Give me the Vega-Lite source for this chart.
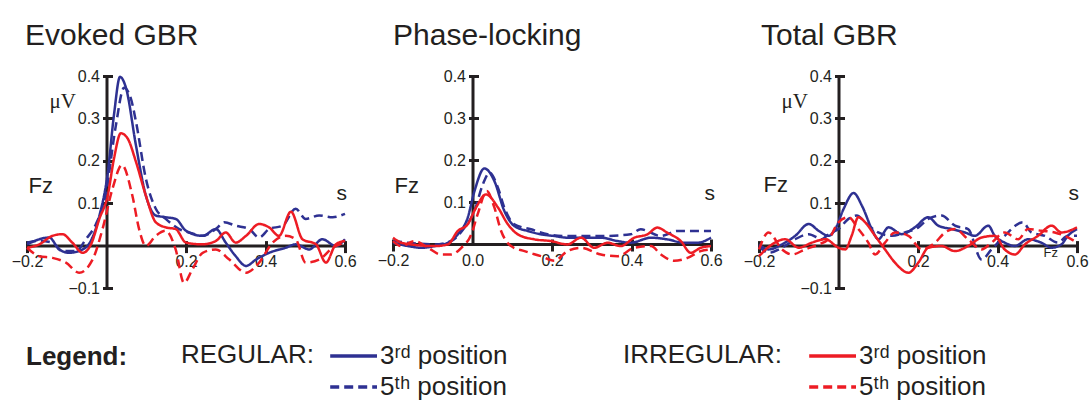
{
  "$schema": "https://vega.github.io/schema/vega-lite/v6.json",
  "padding": {"left": 11, "top": 21, "right": 0, "bottom": 0},
  "background": "white",
  "bounds": "flush",
  "spacing": 48,
  "title": {"text": "Legend:", "orient": "bottom", "anchor": "start", "frame": "group", "baseline": "alphabetic", "offset": -35, "dx": -1, "fontSize": 26, "fontWeight": "bold", "font": "Liberation Sans", "color": "#231f20"},
  "datasets": {
    "evoked": [
      {"series":"R3","t":-0.2,"v":0.003},{"series":"R3","t":-0.144,"v":0.019},{"series":"R3","t":-0.119,"v":-0.009},{"series":"R3","t":-0.094,"v":-0.017},{"series":"R3","t":-0.06,"v":-0.009},{"series":"R3","t":-0.039,"v":0.012},{"series":"R3","t":-0.018,"v":0.07},{"series":"R3","t":0.003,"v":0.17},{"series":"R3","t":0.019,"v":0.31},{"series":"R3","t":0.034,"v":0.398},{"series":"R3","t":0.049,"v":0.372},{"series":"R3","t":0.074,"v":0.237},{"series":"R3","t":0.099,"v":0.118},{"series":"R3","t":0.124,"v":0.071},{"series":"R3","t":0.149,"v":0.067},{"series":"R3","t":0.174,"v":0.063},{"series":"R3","t":0.2,"v":0.035},{"series":"R3","t":0.242,"v":0.023},{"series":"R3","t":0.275,"v":0.039},{"series":"R3","t":0.3,"v":0.007},{"series":"R3","t":0.325,"v":-0.025},{"series":"R3","t":0.351,"v":-0.048},{"series":"R3","t":0.376,"v":-0.033},{"series":"R3","t":0.409,"v":-0.017},{"series":"R3","t":0.451,"v":-0.005},{"series":"R3","t":0.476,"v":0.003},{"series":"R3","t":0.51,"v":-0.009},{"series":"R3","t":0.543,"v":0.015},{"series":"R3","t":0.577,"v":-0.001},{"series":"R3","t":0.6,"v":0.015},
      {"series":"R5","t":-0.2,"v":0.007},{"series":"R5","t":-0.169,"v":0.011},{"series":"R5","t":-0.136,"v":0.007},{"series":"R5","t":-0.111,"v":-0.013},{"series":"R5","t":-0.077,"v":-0.013},{"series":"R5","t":-0.052,"v":0.015},{"series":"R5","t":-0.027,"v":0.05},{"series":"R5","t":-0.002,"v":0.12},{"series":"R5","t":0.023,"v":0.28},{"series":"R5","t":0.044,"v":0.372},{"series":"R5","t":0.061,"v":0.348},{"series":"R5","t":0.074,"v":0.293},{"series":"R5","t":0.099,"v":0.158},{"series":"R5","t":0.124,"v":0.087},{"series":"R5","t":0.149,"v":0.063},{"series":"R5","t":0.183,"v":0.039},{"series":"R5","t":0.208,"v":0.031},{"series":"R5","t":0.242,"v":0.023},{"series":"R5","t":0.275,"v":0.039},{"series":"R5","t":0.296,"v":0.055},{"series":"R5","t":0.325,"v":0.047},{"series":"R5","t":0.359,"v":0.039},{"series":"R5","t":0.384,"v":0.019},{"series":"R5","t":0.409,"v":0.039},{"series":"R5","t":0.443,"v":0.047},{"series":"R5","t":0.476,"v":0.087},{"series":"R5","t":0.501,"v":0.063},{"series":"R5","t":0.535,"v":0.071},{"series":"R5","t":0.569,"v":0.067},{"series":"R5","t":0.6,"v":0.075},
      {"series":"I3","t":-0.2,"v":-0.005},{"series":"I3","t":-0.169,"v":0.003},{"series":"I3","t":-0.136,"v":0.023},{"series":"I3","t":-0.111,"v":0.027},{"series":"I3","t":-0.086,"v":0.007},{"series":"I3","t":-0.06,"v":-0.017},{"series":"I3","t":-0.039,"v":0.003},{"series":"I3","t":-0.018,"v":0.063},{"series":"I3","t":0.003,"v":0.118},{"series":"I3","t":0.019,"v":0.206},{"series":"I3","t":0.036,"v":0.265},{"series":"I3","t":0.053,"v":0.253},{"series":"I3","t":0.074,"v":0.198},{"series":"I3","t":0.099,"v":0.118},{"series":"I3","t":0.124,"v":0.055},{"series":"I3","t":0.149,"v":0.043},{"series":"I3","t":0.174,"v":0.039},{"series":"I3","t":0.2,"v":0.007},{"series":"I3","t":0.242,"v":0.003},{"series":"I3","t":0.275,"v":0.011},{"series":"I3","t":0.3,"v":0.031},{"series":"I3","t":0.325,"v":0.007},{"series":"I3","t":0.351,"v":0.023},{"series":"I3","t":0.384,"v":0.051},{"series":"I3","t":0.409,"v":0.043},{"series":"I3","t":0.434,"v":0.023},{"series":"I3","t":0.464,"v":0.08},{"series":"I3","t":0.493,"v":0.015},{"series":"I3","t":0.527,"v":0.003},{"series":"I3","t":0.552,"v":-0.04},{"series":"I3","t":0.577,"v":0.003},{"series":"I3","t":0.6,"v":0.011},
      {"series":"I5","t":-0.2,"v":-0.005},{"series":"I5","t":-0.169,"v":-0.025},{"series":"I5","t":-0.136,"v":-0.029},{"series":"I5","t":-0.102,"v":-0.04},{"series":"I5","t":-0.069,"v":-0.064},{"series":"I5","t":-0.035,"v":-0.033},{"series":"I5","t":-0.01,"v":0.039},{"series":"I5","t":0.015,"v":0.134},{"series":"I5","t":0.039,"v":0.19},{"series":"I5","t":0.065,"v":0.118},{"series":"I5","t":0.082,"v":0.039},{"series":"I5","t":0.099,"v":-0.001},{"series":"I5","t":0.124,"v":0.023},{"series":"I5","t":0.149,"v":0.035},{"series":"I5","t":0.174,"v":-0.009},{"series":"I5","t":0.195,"v":-0.088},{"series":"I5","t":0.216,"v":-0.056},{"series":"I5","t":0.242,"v":-0.017},{"series":"I5","t":0.275,"v":-0.009},{"series":"I5","t":0.309,"v":-0.033},{"series":"I5","t":0.351,"v":-0.064},{"series":"I5","t":0.384,"v":-0.04},{"series":"I5","t":0.418,"v":0.007},{"series":"I5","t":0.451,"v":0.023},{"series":"I5","t":0.476,"v":0.015},{"series":"I5","t":0.501,"v":-0.04},{"series":"I5","t":0.535,"v":-0.033},{"series":"I5","t":0.569,"v":-0.005},{"series":"I5","t":0.6,"v":0.007}
    ],
    "phase": [
      {"series":"R3","t":-0.2,"v":0.003},{"series":"R3","t":-0.162,"v":-0.005},{"series":"R3","t":-0.129,"v":-0.009},{"series":"R3","t":-0.095,"v":-0.005},{"series":"R3","t":-0.062,"v":0.003},{"series":"R3","t":-0.037,"v":0.023},{"series":"R3","t":-0.012,"v":0.063},{"series":"R3","t":0.005,"v":0.126},{"series":"R3","t":0.03,"v":0.18},{"series":"R3","t":0.055,"v":0.15},{"series":"R3","t":0.08,"v":0.079},{"series":"R3","t":0.105,"v":0.043},{"series":"R3","t":0.139,"v":0.031},{"series":"R3","t":0.172,"v":0.023},{"series":"R3","t":0.206,"v":0.019},{"series":"R3","t":0.239,"v":0.015},{"series":"R3","t":0.281,"v":0.015},{"series":"R3","t":0.323,"v":0.015},{"series":"R3","t":0.365,"v":0.007},{"series":"R3","t":0.398,"v":0.003},{"series":"R3","t":0.449,"v":0.015},{"series":"R3","t":0.49,"v":0.011},{"series":"R3","t":0.532,"v":0.003},{"series":"R3","t":0.566,"v":0.003},{"series":"R3","t":0.6,"v":0.015},
      {"series":"R5","t":-0.2,"v":0.007},{"series":"R5","t":-0.162,"v":0.003},{"series":"R5","t":-0.095,"v":-0.001},{"series":"R5","t":-0.054,"v":0.007},{"series":"R5","t":-0.02,"v":0.039},{"series":"R5","t":0.005,"v":0.079},{"series":"R5","t":0.026,"v":0.142},{"series":"R5","t":0.043,"v":0.17},{"series":"R5","t":0.064,"v":0.134},{"series":"R5","t":0.08,"v":0.087},{"series":"R5","t":0.105,"v":0.047},{"series":"R5","t":0.147,"v":0.035},{"series":"R5","t":0.189,"v":0.023},{"series":"R5","t":0.239,"v":0.019},{"series":"R5","t":0.323,"v":0.019},{"series":"R5","t":0.398,"v":0.023},{"series":"R5","t":0.423,"v":0.035},{"series":"R5","t":0.474,"v":0.019},{"series":"R5","t":0.515,"v":0.031},{"series":"R5","t":0.557,"v":0.031},{"series":"R5","t":0.6,"v":0.031},
      {"series":"I3","t":-0.2,"v":0.015},{"series":"I3","t":-0.179,"v":0.003},{"series":"I3","t":-0.154,"v":-0.001},{"series":"I3","t":-0.095,"v":-0.005},{"series":"I3","t":-0.062,"v":-0.001},{"series":"I3","t":-0.037,"v":0.031},{"series":"I3","t":-0.012,"v":0.047},{"series":"I3","t":0.009,"v":0.087},{"series":"I3","t":0.034,"v":0.118},{"series":"I3","t":0.064,"v":0.087},{"series":"I3","t":0.089,"v":0.047},{"series":"I3","t":0.114,"v":0.023},{"series":"I3","t":0.156,"v":0.011},{"series":"I3","t":0.197,"v":0.007},{"series":"I3","t":0.239,"v":-0.001},{"series":"I3","t":0.273,"v":0.015},{"series":"I3","t":0.306,"v":-0.009},{"series":"I3","t":0.34,"v":0.003},{"series":"I3","t":0.373,"v":-0.005},{"series":"I3","t":0.407,"v":0.015},{"series":"I3","t":0.44,"v":0.023},{"series":"I3","t":0.465,"v":0.039},{"series":"I3","t":0.49,"v":0.027},{"series":"I3","t":0.524,"v":0.007},{"series":"I3","t":0.549,"v":-0.021},{"series":"I3","t":0.574,"v":-0.009},{"series":"I3","t":0.6,"v":-0.005},
      {"series":"I5","t":-0.2,"v":0.007},{"series":"I5","t":-0.179,"v":-0.005},{"series":"I5","t":-0.146,"v":0.007},{"series":"I5","t":-0.112,"v":-0.009},{"series":"I5","t":-0.079,"v":-0.025},{"series":"I5","t":-0.054,"v":-0.025},{"series":"I5","t":-0.028,"v":-0.009},{"series":"I5","t":-0.003,"v":0.023},{"series":"I5","t":0.013,"v":0.071},{"series":"I5","t":0.036,"v":0.126},{"series":"I5","t":0.055,"v":0.087},{"series":"I5","t":0.072,"v":0.031},{"series":"I5","t":0.097,"v":-0.005},{"series":"I5","t":0.131,"v":-0.017},{"series":"I5","t":0.172,"v":-0.029},{"series":"I5","t":0.206,"v":-0.04},{"series":"I5","t":0.239,"v":-0.017},{"series":"I5","t":0.273,"v":-0.009},{"series":"I5","t":0.323,"v":-0.025},{"series":"I5","t":0.365,"v":-0.029},{"series":"I5","t":0.407,"v":-0.009},{"series":"I5","t":0.449,"v":-0.005},{"series":"I5","t":0.474,"v":-0.025},{"series":"I5","t":0.507,"v":-0.04},{"series":"I5","t":0.541,"v":-0.033},{"series":"I5","t":0.574,"v":-0.017},{"series":"I5","t":0.6,"v":-0.013}
    ],
    "total": [
      {"series":"R3","t":-0.2,"v":0.003},{"series":"R3","t":-0.176,"v":-0.009},{"series":"R3","t":-0.142,"v":0.003},{"series":"R3","t":-0.109,"v":0.023},{"series":"R3","t":-0.075,"v":0.051},{"series":"R3","t":-0.05,"v":0.035},{"series":"R3","t":-0.025,"v":0.023},{"series":"R3","t":-0.008,"v":0.039},{"series":"R3","t":0.013,"v":0.087},{"series":"R3","t":0.038,"v":0.124},{"series":"R3","t":0.059,"v":0.094},{"series":"R3","t":0.084,"v":0.039},{"series":"R3","t":0.1,"v":0.015},{"series":"R3","t":0.126,"v":0.043},{"series":"R3","t":0.159,"v":0.027},{"series":"R3","t":0.192,"v":0.043},{"series":"R3","t":0.226,"v":0.067},{"series":"R3","t":0.251,"v":0.047},{"series":"R3","t":0.285,"v":0.039},{"series":"R3","t":0.318,"v":0.031},{"series":"R3","t":0.343,"v":0.023},{"series":"R3","t":0.377,"v":0.047},{"series":"R3","t":0.393,"v":0.023},{"series":"R3","t":0.418,"v":0.007},{"series":"R3","t":0.444,"v":-0.001},{"series":"R3","t":0.477,"v":0.015},{"series":"R3","t":0.51,"v":0.007},{"series":"R3","t":0.536,"v":-0.005},{"series":"R3","t":0.561,"v":0.003},{"series":"R3","t":0.577,"v":0.023},{"series":"R3","t":0.6,"v":0.039},
      {"series":"R5","t":-0.2,"v":-0.001},{"series":"R5","t":-0.176,"v":-0.017},{"series":"R5","t":-0.142,"v":-0.005},{"series":"R5","t":-0.109,"v":0.015},{"series":"R5","t":-0.075,"v":0.027},{"series":"R5","t":-0.042,"v":0.015},{"series":"R5","t":-0.025,"v":0.027},{"series":"R5","t":0.0,"v":0.039},{"series":"R5","t":0.025,"v":0.063},{"series":"R5","t":0.046,"v":0.071},{"series":"R5","t":0.067,"v":0.055},{"series":"R5","t":0.1,"v":0.031},{"series":"R5","t":0.134,"v":0.023},{"series":"R5","t":0.167,"v":0.031},{"series":"R5","t":0.201,"v":0.043},{"series":"R5","t":0.226,"v":0.063},{"series":"R5","t":0.259,"v":0.071},{"series":"R5","t":0.293,"v":0.047},{"series":"R5","t":0.326,"v":0.039},{"series":"R5","t":0.36,"v":-0.033},{"series":"R5","t":0.385,"v":-0.009},{"series":"R5","t":0.418,"v":0.023},{"series":"R5","t":0.464,"v":0.055},{"series":"R5","t":0.485,"v":0.031},{"series":"R5","t":0.519,"v":0.023},{"series":"R5","t":0.552,"v":0.007},{"series":"R5","t":0.577,"v":0.023},{"series":"R5","t":0.6,"v":0.023},
      {"series":"I3","t":-0.2,"v":-0.025},{"series":"I3","t":-0.167,"v":0.003},{"series":"I3","t":-0.134,"v":0.015},{"series":"I3","t":-0.1,"v":-0.005},{"series":"I3","t":-0.067,"v":0.007},{"series":"I3","t":-0.033,"v":0.015},{"series":"I3","t":0.0,"v":-0.005},{"series":"I3","t":0.017,"v":-0.009},{"series":"I3","t":0.033,"v":0.023},{"series":"I3","t":0.05,"v":0.067},{"series":"I3","t":0.067,"v":0.055},{"series":"I3","t":0.092,"v":0.023},{"series":"I3","t":0.117,"v":-0.009},{"series":"I3","t":0.142,"v":-0.04},{"series":"I3","t":0.176,"v":-0.064},{"series":"I3","t":0.201,"v":-0.04},{"series":"I3","t":0.226,"v":-0.005},{"series":"I3","t":0.259,"v":-0.001},{"series":"I3","t":0.293,"v":-0.013},{"series":"I3","t":0.326,"v":-0.001},{"series":"I3","t":0.36,"v":0.019},{"series":"I3","t":0.393,"v":0.023},{"series":"I3","t":0.418,"v":-0.009},{"series":"I3","t":0.444,"v":-0.021},{"series":"I3","t":0.469,"v":0.003},{"series":"I3","t":0.502,"v":0.023},{"series":"I3","t":0.536,"v":0.047},{"series":"I3","t":0.561,"v":0.031},{"series":"I3","t":0.6,"v":0.043},
      {"series":"I5","t":-0.2,"v":-0.009},{"series":"I5","t":-0.176,"v":0.031},{"series":"I5","t":-0.142,"v":-0.009},{"series":"I5","t":-0.117,"v":-0.021},{"series":"I5","t":-0.084,"v":-0.009},{"series":"I5","t":-0.05,"v":0.003},{"series":"I5","t":-0.025,"v":0.015},{"series":"I5","t":0.0,"v":0.055},{"series":"I5","t":0.025,"v":0.067},{"series":"I5","t":0.05,"v":0.039},{"series":"I5","t":0.075,"v":0.007},{"series":"I5","t":0.092,"v":-0.021},{"series":"I5","t":0.117,"v":0.007},{"series":"I5","t":0.142,"v":0.031},{"series":"I5","t":0.176,"v":0.023},{"series":"I5","t":0.209,"v":-0.009},{"series":"I5","t":0.243,"v":0.007},{"series":"I5","t":0.268,"v":0.031},{"series":"I5","t":0.293,"v":0.039},{"series":"I5","t":0.326,"v":0.015},{"series":"I5","t":0.36,"v":-0.009},{"series":"I5","t":0.385,"v":0.007},{"series":"I5","t":0.418,"v":0.031},{"series":"I5","t":0.452,"v":0.015},{"series":"I5","t":0.477,"v":0.039},{"series":"I5","t":0.51,"v":0.035},{"series":"I5","t":0.544,"v":0.031},{"series":"I5","t":0.569,"v":0.023},{"series":"I5","t":0.6,"v":0.007}
    ]
  },
  "hconcat": [
    {
      "width": 318, "height": 212,
      "title": {"text": "Evoked GBR", "anchor": "start", "frame": "group", "baseline": "alphabetic", "offset": -7, "dx": -2, "fontSize": 30, "font": "Liberation Sans", "fontWeight": "normal", "color": "#231f20"},
      "data": {"name": "evoked"},
      "layer": [
        {
          "transform": [{"filter": "datum.series == 'R3' || datum.series == 'R5'"}],
          "mark": {"type": "line", "strokeWidth": 2.5, "interpolate": "monotone"},
          "encoding": {
            "x": {"field": "t", "type": "quantitative", "scale": {"domain": [-0.2, 0.6], "nice": false, "zero": false},
                  "axis": {"orient": "bottom", "offset": -42.4, "values": [-0.2, 0.2, 0.4, 0.6], "format": ".1f", "ticks": false, "labelPadding": 8, "title": "s", "titleFontSize": 21, "titleX": 309, "titleY": -46.6}},
            "y": {"field": "v", "type": "quantitative", "scale": {"domain": [-0.1, 0.4], "nice": false, "zero": false},
                  "axis": {"orient": "left", "offset": -79.5, "values": [-0.1, 0.1, 0.2, 0.3, 0.4], "format": ".1f", "ticks": false, "labelPadding": 7, "title": "\u03bcV", "titleFont": "Liberation Serif", "titleFontSize": 21, "titleX": -57.5, "titleY": 31}},
            "color": {"field": "series", "type": "nominal", "scale": {"domain": ["R3", "R5"], "range": ["#2e3192", "#2e3192"]},
                      "legend": {"title": "REGULAR:", "orient": "none", "legendX": 154, "legendY": 266, "direction": "vertical", "titleOrient": "left", "titleAnchor": "start", "titleBaseline": "top", "titleFont": "Liberation Sans", "titleFontSize": 26, "titleFontWeight": "normal", "titleColor": "#231f20", "titlePadding": 37, "labelFont": "Liberation Sans", "labelFontSize": 26, "labelColor": "#231f20", "labelOffset": 1, "labelLimit": 300, "labelExpr": "datum.value == 'R3' ? '3\u02b3\u1d48 position' : '5\u1d57\u02b0 position'", "symbolType": "M-2.9,0H1", "symbolSize": 576, "symbolStrokeWidth": 3.5, "rowPadding": 4}},
            "strokeDash": {"field": "series", "type": "nominal", "scale": {"domain": ["R3", "R5"], "range": [[1, 0], [9, 5]]},
                      "legend": {"title": "REGULAR:", "orient": "none", "legendX": 154, "legendY": 266, "direction": "vertical", "titleOrient": "left", "titleAnchor": "start", "titleBaseline": "top", "titleFont": "Liberation Sans", "titleFontSize": 26, "titleFontWeight": "normal", "titleColor": "#231f20", "titlePadding": 37, "labelFont": "Liberation Sans", "labelFontSize": 26, "labelColor": "#231f20", "labelOffset": 1, "labelLimit": 300, "labelExpr": "datum.value == 'R3' ? '3\u02b3\u1d48 position' : '5\u1d57\u02b0 position'", "symbolType": "M-2.9,0H1", "symbolSize": 576, "symbolStrokeWidth": 3.5, "rowPadding": 4}}
          }
        },
        {
          "transform": [{"filter": "datum.series == 'I3' || datum.series == 'I5'"}],
          "mark": {"type": "line", "strokeWidth": 2.5, "interpolate": "monotone"},
          "encoding": {
            "x": {"field": "t", "type": "quantitative", "scale": {"domain": [-0.2, 0.6], "nice": false, "zero": false},
                  "axis": {"orient": "bottom", "offset": -47.4, "values": [-0.2, 0.2, 0.4, 0.6], "domain": false, "labels": false, "ticks": true, "tickSize": 12, "title": null}},
            "y": {"field": "v", "type": "quantitative", "scale": {"domain": [-0.1, 0.4], "nice": false, "zero": false},
                  "axis": {"orient": "left", "offset": -85.5, "values": [-0.1, 0.1, 0.2, 0.3, 0.4], "domain": false, "labels": false, "ticks": true, "tickSize": 10, "title": "Fz", "titleFontSize": 22, "titleX": -84.5, "titleY": 116}},
            "color": {"field": "series", "type": "nominal", "scale": {"domain": ["I3", "I5"], "range": ["#ed1c24", "#ed1c24"]},
                      "legend": {"title": "IRREGULAR:", "orient": "none", "legendX": 596, "legendY": 266, "direction": "vertical", "titleOrient": "left", "titleAnchor": "start", "titleBaseline": "top", "titleFont": "Liberation Sans", "titleFontSize": 26, "titleFontWeight": "normal", "titleColor": "#231f20", "titlePadding": 48, "labelFont": "Liberation Sans", "labelFontSize": 26, "labelColor": "#231f20", "labelOffset": 1, "labelLimit": 300, "labelExpr": "datum.value == 'I3' ? '3\u02b3\u1d48 position' : '5\u1d57\u02b0 position'", "symbolType": "M-2.9,0H1", "symbolSize": 576, "symbolStrokeWidth": 3.5, "rowPadding": 4}},
            "strokeDash": {"field": "series", "type": "nominal", "scale": {"domain": ["I3", "I5"], "range": [[1, 0], [9, 5]]},
                      "legend": {"title": "IRREGULAR:", "orient": "none", "legendX": 596, "legendY": 266, "direction": "vertical", "titleOrient": "left", "titleAnchor": "start", "titleBaseline": "top", "titleFont": "Liberation Sans", "titleFontSize": 26, "titleFontWeight": "normal", "titleColor": "#231f20", "titlePadding": 48, "labelFont": "Liberation Sans", "labelFontSize": 26, "labelColor": "#231f20", "labelOffset": 1, "labelLimit": 300, "labelExpr": "datum.value == 'I3' ? '3\u02b3\u1d48 position' : '5\u1d57\u02b0 position'", "symbolType": "M-2.9,0H1", "symbolSize": 576, "symbolStrokeWidth": 3.5, "rowPadding": 4}}
          }
        }
      ],
      "resolve": {"scale": {"color": "independent", "strokeDash": "independent"}, "axis": {"x": "independent", "y": "independent"}}
    },
    {
      "width": 318, "height": 168,
      "title": {"text": "Phase-locking", "anchor": "start", "frame": "group", "baseline": "alphabetic", "offset": -7, "dx": 0, "fontSize": 30, "font": "Liberation Sans", "fontWeight": "normal", "color": "#231f20"},
      "data": {"name": "phase"},
      "layer": [
        {
          "transform": [{"filter": "datum.series == 'R3' || datum.series == 'R5'"}],
          "mark": {"type": "line", "strokeWidth": 2.5, "interpolate": "monotone"},
          "encoding": {
            "x": {"field": "t", "type": "quantitative", "scale": {"domain": [-0.2, 0.6], "nice": false, "zero": false},
                  "axis": {"orient": "bottom", "offset": 0, "values": [-0.2, 0, 0.2, 0.4, 0.6], "format": ".1f", "ticks": false, "labelPadding": 8, "title": "s", "titleFontSize": 21, "titleX": 311, "titleY": -45}},
            "y": {"field": "v", "type": "quantitative", "scale": {"domain": [0, 0.4], "nice": false, "zero": false},
                  "axis": {"orient": "left", "offset": -79.5, "values": [0.1, 0.2, 0.3, 0.4], "format": ".1f", "ticks": false, "labelPadding": 7, "title": null}},
            "color": {"field": "series", "type": "nominal", "scale": {"domain": ["R3", "R5"], "range": ["#2e3192", "#2e3192"]}, "legend": null},
            "strokeDash": {"field": "series", "type": "nominal", "scale": {"domain": ["R3", "R5"], "range": [[1, 0], [9, 5]]}, "legend": null}
          }
        },
        {
          "transform": [{"filter": "datum.series == 'I3' || datum.series == 'I5'"}],
          "mark": {"type": "line", "strokeWidth": 2.5, "interpolate": "monotone"},
          "encoding": {
            "x": {"field": "t", "type": "quantitative", "scale": {"domain": [-0.2, 0.6], "nice": false, "zero": false},
                  "axis": {"orient": "bottom", "offset": -5, "values": [-0.2, 0.2, 0.4, 0.6], "domain": false, "labels": false, "ticks": true, "tickSize": 12, "title": null}},
            "y": {"field": "v", "type": "quantitative", "scale": {"domain": [0, 0.4], "nice": false, "zero": false},
                  "axis": {"orient": "left", "offset": -85.5, "values": [0.1, 0.2, 0.3, 0.4], "domain": false, "labels": false, "ticks": true, "tickSize": 10, "title": "Fz", "titleFontSize": 22, "titleX": -84.5, "titleY": 116}},
            "color": {"field": "series", "type": "nominal", "scale": {"domain": ["I3", "I5"], "range": ["#ed1c24", "#ed1c24"]}, "legend": null},
            "strokeDash": {"field": "series", "type": "nominal", "scale": {"domain": ["I3", "I5"], "range": [[1, 0], [9, 5]]}, "legend": null}
          }
        }
      ],
      "resolve": {"scale": {"color": "independent", "strokeDash": "independent"}, "axis": {"x": "independent", "y": "independent"}}
    },
    {
      "width": 318, "height": 212,
      "title": {"text": "Total GBR", "anchor": "start", "frame": "group", "baseline": "alphabetic", "offset": -7, "dx": 2, "fontSize": 30, "font": "Liberation Sans", "fontWeight": "normal", "color": "#231f20"},
      "data": {"name": "total"},
      "layer": [
        {
          "transform": [{"filter": "datum.series == 'R3' || datum.series == 'R5'"}],
          "mark": {"type": "line", "strokeWidth": 2.5, "interpolate": "monotone"},
          "encoding": {
            "x": {"field": "t", "type": "quantitative", "scale": {"domain": [-0.2, 0.6], "nice": false, "zero": false},
                  "axis": {"orient": "bottom", "offset": -42.4, "values": [-0.2, 0.2, 0.4, 0.6], "format": ".1f", "ticks": false, "labelPadding": 8, "title": "s", "titleFontSize": 21, "titleX": 309, "titleY": -46.6}},
            "y": {"field": "v", "type": "quantitative", "scale": {"domain": [-0.1, 0.4], "nice": false, "zero": false},
                  "axis": {"orient": "left", "offset": -79.5, "values": [-0.1, 0.1, 0.2, 0.3, 0.4], "format": ".1f", "ticks": false, "labelPadding": 7, "title": "\u03bcV", "titleFont": "Liberation Serif", "titleFontSize": 21, "titleX": -57.5, "titleY": 31}},
            "color": {"field": "series", "type": "nominal", "scale": {"domain": ["R3", "R5"], "range": ["#2e3192", "#2e3192"]}, "legend": null},
            "strokeDash": {"field": "series", "type": "nominal", "scale": {"domain": ["R3", "R5"], "range": [[1, 0], [9, 5]]}, "legend": null}
          }
        },
        {
          "transform": [{"filter": "datum.series == 'I3' || datum.series == 'I5'"}],
          "mark": {"type": "line", "strokeWidth": 2.5, "interpolate": "monotone"},
          "encoding": {
            "x": {"field": "t", "type": "quantitative", "scale": {"domain": [-0.2, 0.6], "nice": false, "zero": false},
                  "axis": {"orient": "bottom", "offset": -47.4, "values": [-0.2, 0.2, 0.4, 0.6], "domain": false, "labels": false, "ticks": true, "tickSize": 12, "title": "Fz", "titleFontSize": 13, "titleX": 284, "titleY": 15.4}},
            "y": {"field": "v", "type": "quantitative", "scale": {"domain": [-0.1, 0.4], "nice": false, "zero": false},
                  "axis": {"orient": "left", "offset": -85.5, "values": [-0.1, 0.1, 0.2, 0.3, 0.4], "domain": false, "labels": false, "ticks": true, "tickSize": 10, "title": "Fz", "titleFontSize": 22, "titleX": -81.5, "titleY": 115}},
            "color": {"field": "series", "type": "nominal", "scale": {"domain": ["I3", "I5"], "range": ["#ed1c24", "#ed1c24"]}, "legend": null},
            "strokeDash": {"field": "series", "type": "nominal", "scale": {"domain": ["I3", "I5"], "range": [[1, 0], [9, 5]]}, "legend": null}
          }
        }
      ],
      "resolve": {"scale": {"color": "independent", "strokeDash": "independent"}, "axis": {"x": "independent", "y": "independent"}}
    }
  ],
  "resolve": {"scale": {"color": "independent", "strokeDash": "independent"}},
  "config": {
    "view": {"stroke": null},
    "axis": {"grid": false, "labelFont": "Liberation Sans", "labelFontSize": 16, "labelColor": "#231f20", "labelFlush": false, "labelOverlap": false, "labelBound": false, "domainColor": "#231f20", "domainWidth": 3, "tickColor": "#231f20", "tickWidth": 3, "titleFont": "Liberation Sans", "titleFontWeight": "normal", "titleColor": "#231f20", "titleAngle": 0, "titleAlign": "left", "titleBaseline": "alphabetic", "titlePadding": 0}
  }
}
